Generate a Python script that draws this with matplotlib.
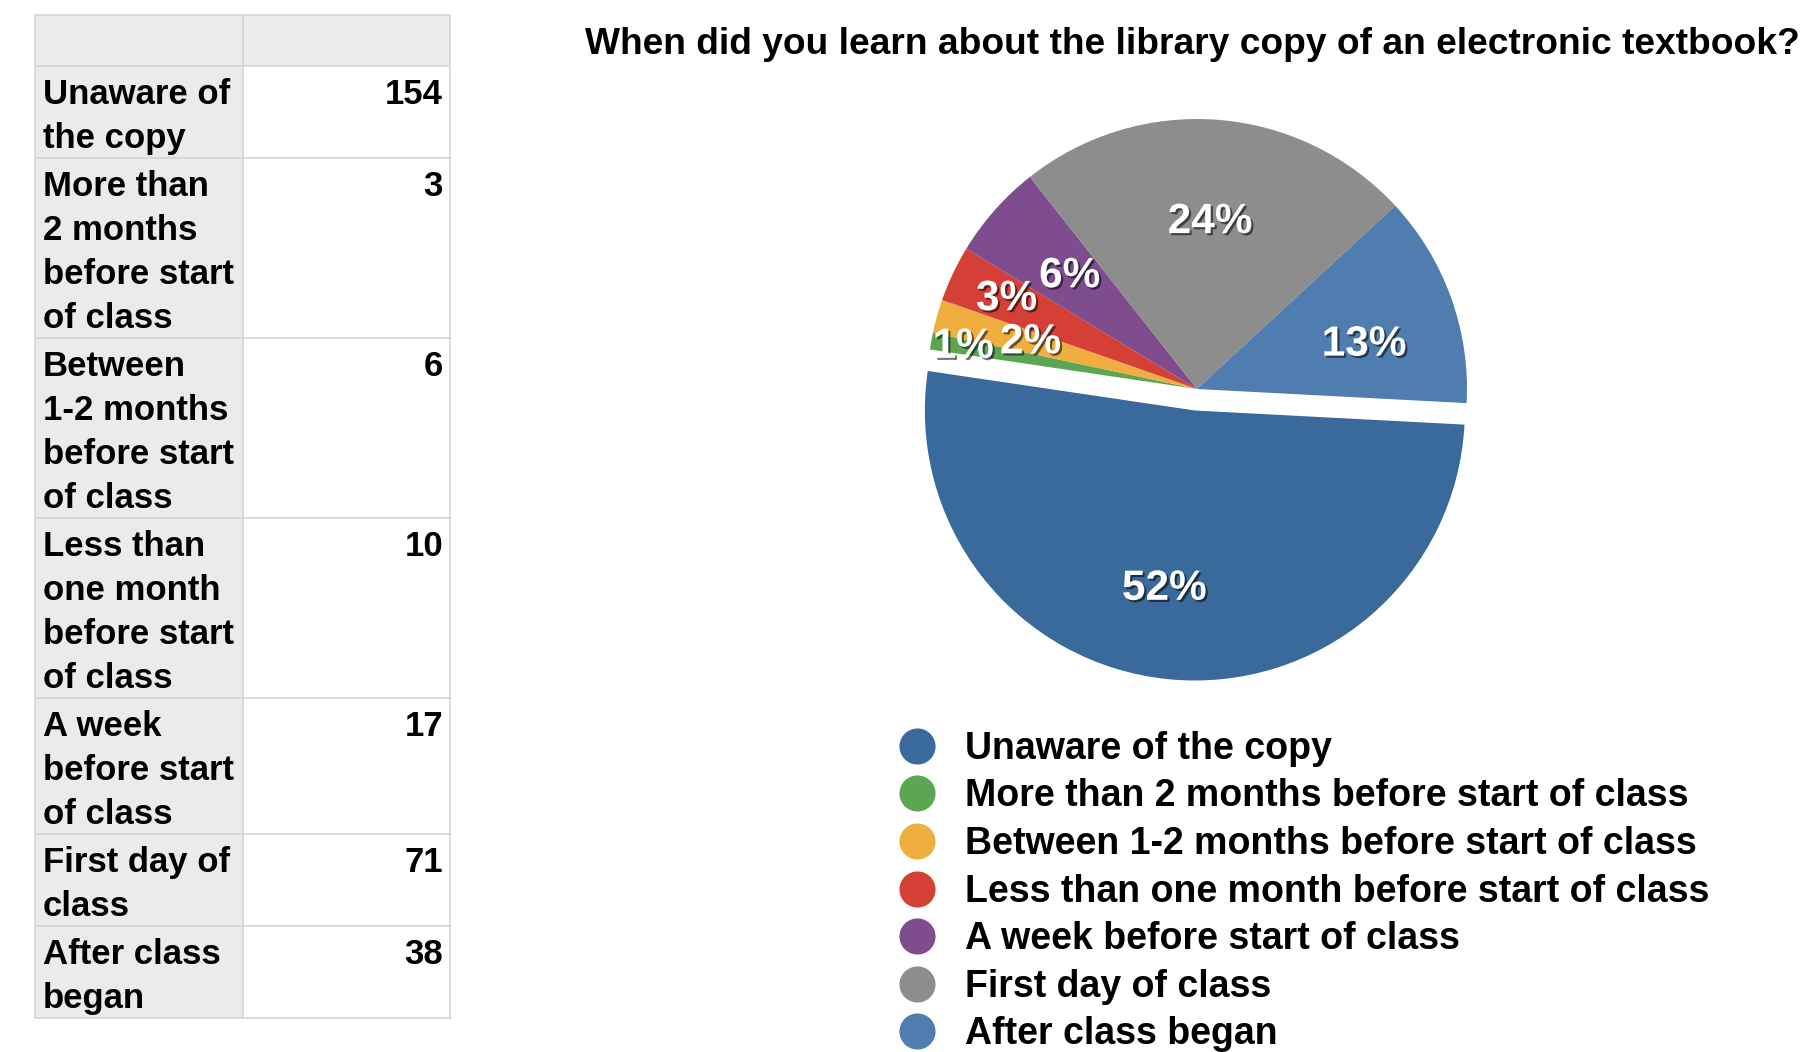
import numpy as np
import matplotlib
matplotlib.use('Agg')
import matplotlib.pyplot as plt
import matplotlib.patheffects as pe
from matplotlib.lines import Line2D
from matplotlib.patches import Rectangle

# ---------------- data ----------------
categories = ["Unaware of the copy",
              "More than 2 months before start of class",
              "Between 1-2 months before start of class",
              "Less than one month before start of class",
              "A week before start of class",
              "First day of class",
              "After class began"]
counts = [154, 3, 6, 10, 17, 71, 38]
table_labels = ["Unaware of\nthe copy",
                "More than\n2 months\nbefore start\nof class",
                "Between\n1-2 months\nbefore start\nof class",
                "Less than\none month\nbefore start\nof class",
                "A week\nbefore start\nof class",
                "First day of\nclass",
                "After class\nbegan"]
title = "When did you learn about the library copy of an electronic textbook?"

# ---------------- style ----------------
colors = ['#3A699B', '#5CA653', '#EFAE3F', '#D43F36', '#7F4C8E', '#8D8D8D', '#4F7DB0']
explode = [0.08, 0, 0, 0, 0, 0, 0]
label_dist = [0.67, 0.88, 0.64, 0.78, 0.63, 0.62, 0.64]
label_dang = [-4, 0, 0, 0, 0, 0, -5]

W, H = 1804, 1052
plt.rcParams['font.family'] = ['Liberation Sans', 'DejaVu Sans']
plt.rcParams['font.weight'] = 'bold'
fig = plt.figure(figsize=(W / 100, H / 100), dpi=100)

# ---------------- table (pixel coordinates overlay) ----------------
tab = fig.add_axes([0, 0, 1, 1])
tab.set_xlim(0, W)
tab.set_ylim(H, 0)
tab.axis('off')
x0, x1, x2 = 35, 243, 450
top = 15
header_h = 51
line_h = 44
gray_fc = '#EBEBEB'
edge = '#D6D6D6'
tfs = 25

tab.add_patch(Rectangle((x0, top), x1 - x0, header_h, fc=gray_fc, ec=edge, lw=1.2))
tab.add_patch(Rectangle((x1, top), x2 - x1, header_h, fc=gray_fc, ec=edge, lw=1.2))
y = top + header_h
for lab, val in zip(table_labels, counts):
    lines = lab.split('\n')
    rh = len(lines) * line_h + 4
    tab.add_patch(Rectangle((x0, y), x1 - x0, rh, fc=gray_fc, ec=edge, lw=1.2))
    tab.add_patch(Rectangle((x1, y), x2 - x1, rh, fc='white', ec=edge, lw=1.2))
    for i, ln in enumerate(lines):
        tab.text(x0 + 8, y + 38 + i * line_h, ln, fontsize=tfs, fontweight='bold',
                 ha='left', va='baseline', color='black')
    tab.text(x2 - 7, y + 38, str(val), fontsize=tfs, fontweight='bold',
             ha='right', va='baseline', color='black')
    y += rh

# ---------------- pie ----------------
cx, cy, R = 1197, 389, 270
half = 1.2 * R
ax = fig.add_axes([(cx - half) / W, (H - cy - half) / H, 2 * half / W, 2 * half / H])
wedges, texts, autotexts = ax.pie(counts, colors=colors, explode=explode, startangle=-3,
                                  counterclock=False, radius=1, autopct='%1.0f%%',
                                  wedgeprops=dict(linewidth=0),
                                  textprops=dict(color='white', fontsize=30.5, fontweight='bold'))
ax.set_xlim(-1.2, 1.2)
ax.set_ylim(-1.2, 1.2)
ax.axis('off')
shadow = [pe.withSimplePatchShadow(offset=(1.5, -1.5), shadow_rgbFace='black', alpha=0.55)]
for w, t, d, da in zip(wedges, autotexts, label_dist, label_dang):
    th = np.deg2rad((w.theta1 + w.theta2) / 2 + da)
    t.set_position((w.center[0] + d * w.r * np.cos(th), w.center[1] + d * w.r * np.sin(th)))
    t.set_ha('center')
    t.set_va('center')
    t.set_path_effects(shadow)

# ---------------- title ----------------
tt = fig.text(1192 / W, 1 - 45 / H, title, fontsize=24, fontweight='bold',
              ha='center', va='center', color='black')
fig.canvas.draw()
tw = tt.get_window_extent().width
tt.set_fontsize(24 * 1216 / tw)

# ---------------- legend ----------------
lfs = 27
handles = [Line2D([], [], marker='o', ls='', markersize=25, markerfacecolor=c,
                  markeredgecolor=c) for c in colors]
fig.legend(handles, categories, loc='upper left',
           bbox_to_anchor=(879 / W, 1 - 712 / H), frameon=False, fontsize=lfs,
           borderpad=0, handlelength=1.0, handletextpad=0.79, labelspacing=0.31,
           prop=dict(weight='bold', size=lfs))

fig.savefig('out.png', dpi=100, facecolor='white')
